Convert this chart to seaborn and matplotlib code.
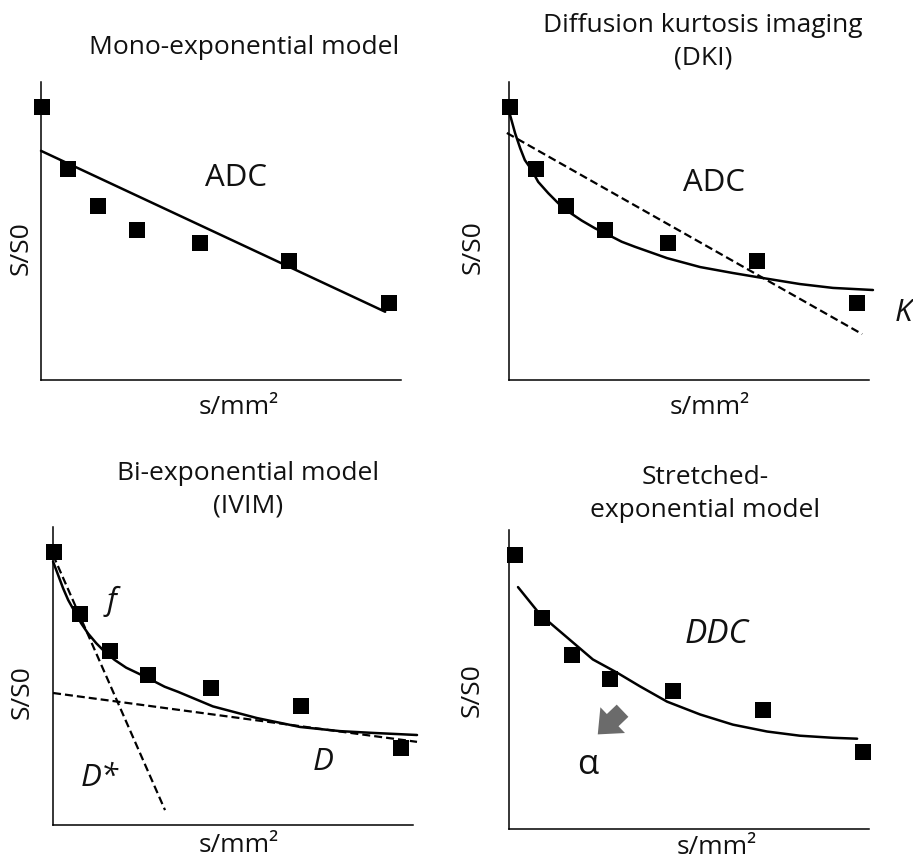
import matplotlib
matplotlib.use("Agg")
import matplotlib.pyplot as plt
import seaborn as sns

W, H = 913, 859

# measured signal decay (same points in every panel), b on a 0-100 scale
b_values = [0.3, 7.6, 15.9, 26.6, 44.1, 69.0, 96.7]
signal = [91.5, 70.7, 58.3, 50.2, 46.1, 39.8, 25.9]

# mono-exponential fit
mono_b = [0.0, 95.6]
mono_fit = [76.9, 22.9]

# diffusion kurtosis fit + plain ADC line
dki_b = [0.3, 1.7, 3.1, 4.4, 6.3, 8.1, 10.9, 13.7, 16.5, 20.2, 23.9, 27.6, 31.3, 35.0,
         43.9, 53.1, 62.2, 70.6, 80.8, 90.0, 101.1]
dki_fit = [88.9, 82.8, 77.8, 73.8, 70.5, 66.5, 62.7, 59.3, 56.5, 53.5, 50.9, 48.7, 46.4, 44.7,
           40.9, 37.9, 35.9, 34.2, 32.2, 30.9, 30.2]
dki_adc_b = [-0.6, 98.1]
dki_adc = [82.9, 15.4]

# IVIM fit + fast / slow components
ivim_b = [0.1, 1.5, 2.9, 4.3, 6.1, 7.9, 9.8, 12.1, 14.4, 17.2, 20.4, 23.7, 27.4, 31.1, 34.8,
          44.5, 56.7, 68.7, 79.8, 89.0, 101.2]
ivim_fit = [88.4, 83.9, 79.4, 75.5, 71.6, 67.7, 64.3, 61.0, 58.2, 55.4, 52.8, 50.9, 48.7, 46.4, 44.7,
            39.8, 35.9, 32.9, 31.5, 30.9, 30.2]
ivim_fast_b = [0.1, 31.2]
ivim_fast = [90.6, 5.0]
ivim_slow_b = [0.1, 101.2]
ivim_slow = [44.3, 27.9]

# stretched exponential fit
str_b = [1.0, 7.1, 14.6, 21.8, 28.5, 34.9, 42.4, 51.6, 60.7, 70.2, 79.3, 88.5, 95.2]
str_fit = [80.9, 71.8, 64.1, 56.7, 52.3, 47.7, 42.6, 38.3, 34.9, 32.6, 31.2, 30.5, 30.2]

sns.set_style("white")
plt.rcParams['font.family'] = ['Open Sans', 'DejaVu Sans']
plt.rcParams['text.color'] = '#111111'

fig = plt.figure(figsize=(W / 100, H / 100), dpi=100)


def panel(l, r, t, b, xlim=(0, 100)):
    ax = fig.add_axes([l / W, 1 - b / H, (r - l) / W, (b - t) / H])
    ax.set_xlim(*xlim)
    ax.set_ylim(0, 100)
    ax.set_xticks([])
    ax.set_yticks([])
    for s in ['top', 'right']:
        ax.spines[s].set_visible(False)
    for s in ['left', 'bottom']:
        ax.spines[s].set_color('black')
        ax.spines[s].set_linewidth(1.1)
    ax.set_facecolor('none')
    return ax


def ftext(px, py, s, **kw):
    kw.setdefault('ha', 'center')
    kw.setdefault('va', 'center')
    kw.setdefault('fontsize', 19)
    fig.text(px / W, 1 - py / H, s, **kw)


def points(ax):
    sns.scatterplot(x=b_values, y=signal, marker='s', s=125, color='black',
                    linewidth=0, ax=ax, clip_on=False, zorder=4)


def curve(ax, x, y, dashed=False):
    kw = dict(color='black', lw=1.8, sort=False, estimator=None, ax=ax)
    if dashed:
        kw['linestyle'] = (0, (3.6, 1.8))
        kw['lw'] = 1.6
    sns.lineplot(x=x, y=y, **kw)
    for ln in ax.lines:
        ln.set_clip_on(False)
        ln.set_solid_joinstyle('round')


LBL = 22.5

# top left: mono-exponential
ax1 = panel(41, 401, 82, 380)
points(ax1)
curve(ax1, mono_b, mono_fit)
ax1.text(54.2, 67.8, 'ADC', fontsize=LBL, ha='center', va='center')
ftext(244, 47, 'Mono-exponential model')
ftext(21, 248, 'S/S0', rotation=90)
ftext(239, 408, 's/mm²')

# top right: DKI
ax2 = panel(509, 869, 82, 380)
points(ax2)
curve(ax2, dki_b, dki_fit)
curve(ax2, dki_adc_b, dki_adc, dashed=True)
ax2.text(56.9, 66.1, 'ADC', fontsize=LBL, ha='center', va='center')
ax2.text(109.7, 22.5, 'K', fontsize=LBL, style='italic', ha='center', va='center')
ftext(703, 42, 'Diffusion kurtosis imaging\n(DKI)', linespacing=1.4)
ftext(473, 247, 'S/S0', rotation=90)
ftext(710, 408, 's/mm²')

# bottom left: IVIM
ax3 = panel(52.7, 412.7, 527, 825)
points(ax3)
curve(ax3, ivim_b, ivim_fit)
curve(ax3, ivim_fast_b, ivim_fast, dashed=True)
curve(ax3, ivim_slow_b, ivim_slow, dashed=True)
ax3.text(16.4, 74.9, 'f', fontsize=LBL, style='italic', ha='center', va='center')
ax3.text(13.1, 15.8, 'D*', fontsize=LBL, style='italic', ha='center', va='center')
ax3.text(75.1, 21.1, 'D', fontsize=LBL, style='italic', ha='center', va='center')
ftext(248, 490, 'Bi-exponential model\n(IVIM)', linespacing=1.4)
ftext(22, 692, 'S/S0', rotation=90)
ftext(239, 845, 's/mm²')

# bottom right: stretched exponential
ax4 = panel(509, 869, 530, 829, xlim=(-1.5, 98.5))
points(ax4)
curve(ax4, str_b, str_fit)
ax4.text(56.3, 65.1, 'DDC', fontsize=24, style='italic', ha='center', va='center')
ax4.annotate('', xy=(22.6, 31.0), xytext=(30.6, 40.2),
             arrowprops=dict(arrowstyle='simple,head_width=0.95,head_length=0.55,tail_width=0.45',
                             mutation_scale=27, color='#6b6b6b', lw=0))
ax4.text(20.4, 21.5, 'α', fontsize=25, ha='center', va='center')
ftext(705, 494, 'Stretched-\nexponential model', linespacing=1.4)
ftext(472, 690, 'S/S0', rotation=90)
ftext(717, 847, 's/mm²')

fig.savefig('out.png', dpi=100)
